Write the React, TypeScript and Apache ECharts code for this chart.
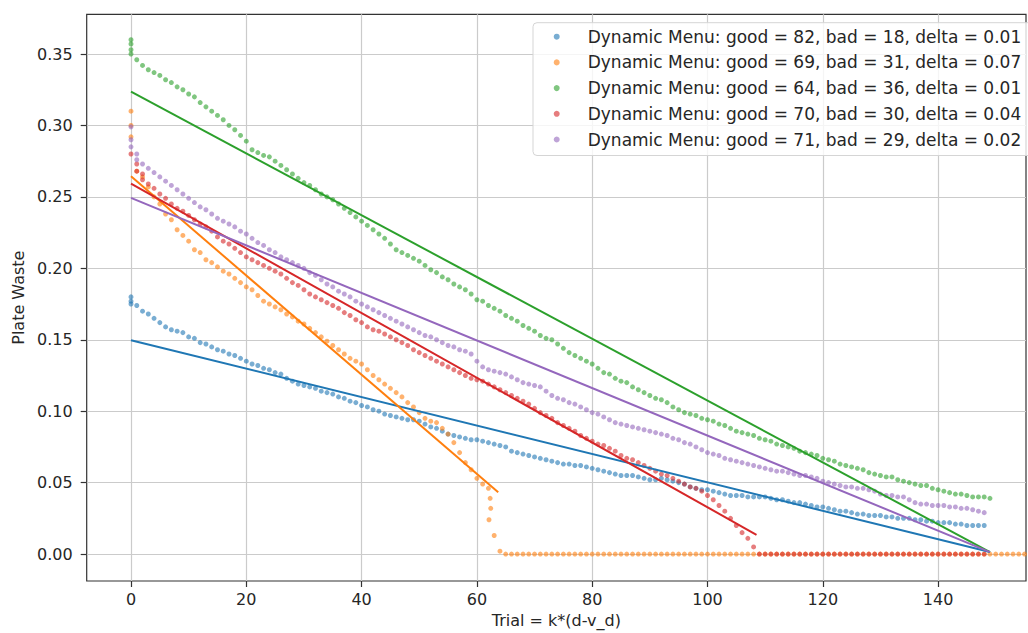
import React, { useEffect, useRef } from "react";
import * as echarts from "echarts";

const seriesNames = [
  "Dynamic Menu: good = 82, bad = 18, delta = 0.01",
  "Dynamic Menu: good = 69, bad = 31, delta = 0.07",
  "Dynamic Menu: good = 64, bad = 36, delta = 0.01",
  "Dynamic Menu: good = 70, bad = 30, delta = 0.04",
  "Dynamic Menu: good = 71, bad = 29, delta = 0.02",
];
const colors = ["#1f77b4", "#ff7f0e", "#2ca02c", "#d62728", "#9467bd"];

// y value per trial (x = index)
const blueY = [
  0.180, 0.174, 0.170, 0.168, 0.165, 0.162, 0.159, 0.157, 0.156, 0.155,
  0.152, 0.151, 0.148, 0.147, 0.145, 0.143, 0.142, 0.140, 0.139, 0.137,
  0.135, 0.133, 0.132, 0.130, 0.129, 0.127, 0.126, 0.123, 0.121, 0.119,
  0.118, 0.117, 0.116, 0.114, 0.113, 0.112, 0.110, 0.109, 0.107, 0.106,
  0.104, 0.103, 0.101, 0.100, 0.098, 0.097, 0.096, 0.095, 0.094, 0.094,
  0.093, 0.091, 0.089, 0.088, 0.086, 0.084, 0.083, 0.082, 0.081, 0.080,
  0.080, 0.079, 0.078, 0.077, 0.076, 0.075, 0.072, 0.071, 0.070, 0.069,
  0.068, 0.067, 0.066, 0.065, 0.064, 0.063, 0.063, 0.062, 0.062, 0.061,
  0.060, 0.059, 0.058, 0.057, 0.056, 0.055, 0.055, 0.055, 0.054, 0.053,
  0.052, 0.052, 0.053, 0.052, 0.051, 0.050, 0.049, 0.047, 0.046, 0.045,
  0.045, 0.044, 0.043, 0.042, 0.041, 0.041, 0.041, 0.040, 0.040, 0.040,
  0.040, 0.039, 0.038, 0.038, 0.037, 0.036, 0.036, 0.035, 0.034, 0.033,
  0.033, 0.032, 0.031, 0.030, 0.030, 0.029, 0.028, 0.028, 0.027, 0.027,
  0.027, 0.026, 0.026, 0.025, 0.025, 0.025, 0.024, 0.024, 0.023, 0.023,
  0.022, 0.022, 0.022, 0.021, 0.021, 0.020, 0.020, 0.020, 0.020,
];
const blueExtra = [[0, 0.177], [0, 0.175]];

const orangeY = [
  0.292, 0.268, 0.264, 0.257, 0.250, 0.245, 0.238, 0.234, 0.227, 0.223,
  0.219, 0.213, 0.211, 0.206, 0.204, 0.201, 0.198, 0.196, 0.193, 0.190,
  0.187, 0.185, 0.181, 0.177, 0.175, 0.173, 0.171, 0.168, 0.166, 0.163,
  0.161, 0.158, 0.155, 0.152, 0.149, 0.146, 0.143, 0.140, 0.137, 0.135,
  0.133, 0.129, 0.125, 0.122, 0.119, 0.116, 0.113, 0.110, 0.106, 0.103,
  0.099, 0.095, 0.093, 0.092, 0.088, 0.084, 0.078, 0.071, 0.064, 0.059,
  0.053, 0.049, 0.046, 0.013, 0.002, 0, 0, 0, 0, 0,
  0, 0, 0, 0, 0, 0, 0, 0, 0, 0,
  0, 0, 0, 0, 0, 0, 0, 0, 0, 0,
  0, 0, 0, 0, 0, 0, 0, 0, 0, 0,
  0, 0, 0, 0, 0, 0, 0, 0, 0, 0,
  0, 0, 0, 0, 0, 0, 0, 0, 0, 0,
  0, 0, 0, 0, 0, 0, 0, 0, 0, 0,
  0, 0, 0, 0, 0, 0, 0, 0, 0, 0,
  0, 0, 0, 0, 0, 0, 0, 0, 0, 0,
  0, 0, 0, 0, 0, 0, 0, 0, 0, 0,
];
const orangeExtra = [[0, 0.310], [0, 0.300], [62.3, 0.039], [62.4, 0.032], [62.1, 0.024]];

const greenY = [
  0.360, 0.346, 0.342, 0.339, 0.337, 0.335, 0.332, 0.330, 0.327, 0.325,
  0.322, 0.320, 0.316, 0.313, 0.310, 0.307, 0.304, 0.300, 0.297, 0.293,
  0.289, 0.283, 0.281, 0.279, 0.278, 0.275, 0.272, 0.269, 0.266, 0.263,
  0.260, 0.258, 0.255, 0.252, 0.250, 0.248, 0.245, 0.242, 0.239, 0.236,
  0.233, 0.230, 0.227, 0.224, 0.221, 0.217, 0.213, 0.211, 0.209, 0.207,
  0.205, 0.202, 0.199, 0.197, 0.194, 0.192, 0.189, 0.187, 0.185, 0.182,
  0.178, 0.177, 0.174, 0.172, 0.170, 0.167, 0.165, 0.163, 0.160, 0.158,
  0.156, 0.153, 0.151, 0.150, 0.147, 0.144, 0.141, 0.139, 0.137, 0.135,
  0.133, 0.130, 0.127, 0.126, 0.123, 0.121, 0.120, 0.117, 0.115, 0.113,
  0.111, 0.109, 0.108, 0.106, 0.103, 0.101, 0.099, 0.098, 0.097, 0.095,
  0.094, 0.093, 0.091, 0.090, 0.088, 0.086, 0.085, 0.084, 0.083, 0.081,
  0.080, 0.079, 0.077, 0.076, 0.075, 0.074, 0.072, 0.071, 0.070, 0.069,
  0.067, 0.066, 0.065, 0.063, 0.062, 0.061, 0.060, 0.059, 0.057, 0.056,
  0.055, 0.054, 0.054, 0.052, 0.051, 0.050, 0.049, 0.048, 0.048, 0.046,
  0.045, 0.044, 0.043, 0.042, 0.042, 0.041, 0.040, 0.040, 0.040, 0.039,
];
const greenExtra = [[0, 0.357], [0, 0.353], [0, 0.350]];

const redY = [
  0.280, 0.268, 0.262, 0.259, 0.256, 0.252, 0.249, 0.245, 0.242, 0.240,
  0.237, 0.234, 0.231, 0.229, 0.226, 0.222, 0.219, 0.217, 0.214, 0.211,
  0.208, 0.206, 0.204, 0.202, 0.200, 0.198, 0.196, 0.193, 0.190, 0.188,
  0.185, 0.182, 0.180, 0.178, 0.176, 0.174, 0.172, 0.169, 0.167, 0.164,
  0.162, 0.159, 0.157, 0.156, 0.154, 0.152, 0.150, 0.148, 0.146, 0.143,
  0.141, 0.139, 0.137, 0.135, 0.133, 0.131, 0.129, 0.127, 0.125, 0.123,
  0.122, 0.121, 0.119, 0.117, 0.115, 0.113, 0.111, 0.109, 0.107, 0.105,
  0.102, 0.099, 0.097, 0.095, 0.092, 0.090, 0.088, 0.086, 0.083, 0.081,
  0.079, 0.077, 0.076, 0.074, 0.072, 0.069, 0.067, 0.066, 0.064, 0.062,
  0.060, 0.058, 0.056, 0.055, 0.053, 0.051, 0.049, 0.047, 0.046, 0.044,
  0.041, 0.038, 0.034, 0.030, 0.025, 0.020, 0.015, 0.011, 0.005, 0,
  0, 0, 0, 0, 0, 0, 0, 0, 0, 0,
  0, 0, 0, 0, 0, 0, 0, 0, 0, 0,
  0, 0, 0, 0, 0, 0, 0, 0, 0, 0,
  0, 0, 0, 0, 0, 0, 0, 0, 0,
];
const redExtra = [[1, 0.273], [2, 0.266]];

const purpleY = [
  0.290, 0.276, 0.273, 0.270, 0.267, 0.264, 0.261, 0.258, 0.255, 0.252,
  0.249, 0.246, 0.243, 0.241, 0.238, 0.235, 0.233, 0.231, 0.229, 0.226,
  0.224, 0.221, 0.218, 0.216, 0.213, 0.211, 0.208, 0.206, 0.204, 0.202,
  0.200, 0.197, 0.195, 0.192, 0.189, 0.187, 0.184, 0.182, 0.180, 0.177,
  0.175, 0.173, 0.171, 0.169, 0.167, 0.165, 0.163, 0.161, 0.159, 0.157,
  0.155, 0.153, 0.152, 0.150, 0.148, 0.146, 0.145, 0.143, 0.142, 0.140,
  0.135, 0.131, 0.129, 0.128, 0.127, 0.126, 0.124, 0.122, 0.120, 0.119,
  0.118, 0.117, 0.114, 0.111, 0.109, 0.108, 0.106, 0.105, 0.103, 0.101,
  0.099, 0.098, 0.096, 0.094, 0.092, 0.091, 0.090, 0.089, 0.088, 0.087,
  0.086, 0.085, 0.084, 0.083, 0.081, 0.080, 0.078, 0.077, 0.075, 0.073,
  0.071, 0.070, 0.069, 0.067, 0.066, 0.065, 0.064, 0.063, 0.062, 0.061,
  0.060, 0.059, 0.058, 0.058, 0.057, 0.056, 0.055, 0.055, 0.054, 0.053,
  0.051, 0.050, 0.049, 0.048, 0.047, 0.047, 0.046, 0.046, 0.045, 0.044,
  0.042, 0.041, 0.041, 0.040, 0.040, 0.038, 0.036, 0.035, 0.035, 0.034,
  0.034, 0.034, 0.033, 0.033, 0.032, 0.032, 0.031, 0.030, 0.029,
];
const purpleExtra = [[0, 0.299], [0, 0.285], [1, 0.280]];

// fitted straight lines: [x, y] end points
const blueFit = [[0, 0.1497], [149, 0.0014]];
const orangeFit = [[0, 0.2644], [63.7, 0.0433]];
const greenFit = [[0, 0.3237], [149, 0.0014]];
const redFit = [[0, 0.2593], [108.5, 0.0135]];
const purpleFit = [[0, 0.2493], [149, 0.0014]];

const xTicks = [0, 20, 40, 60, 80, 100, 120, 140];
const yTicks = [0, 0.05, 0.1, 0.15, 0.2, 0.25, 0.3, 0.35];

const FONT = "DejaVu Sans";
const TXT = "#262626";

function App() {
  const ref = useRef<HTMLDivElement>(null);
  useEffect(() => {
    if (!ref.current) return;
    const chart = echarts.init(ref.current, undefined, { renderer: "svg" });
    const allY = [blueY, orangeY, greenY, redY, purpleY];
    const extras = [blueExtra, orangeExtra, greenExtra, redExtra, purpleExtra];
    const fits = [blueFit, orangeFit, greenFit, redFit, purpleFit];
    const series: any[] = [];
    allY.forEach((ys, k) => {
      series.push({
        name: seriesNames[k],
        type: "scatter",
        data: [...extras[k], ...ys.map((y, i) => [i, y])],
        symbol: "circle",
        symbolSize: 5,
        itemStyle: { color: colors[k], opacity: 0.6 },
        emphasis: { disabled: true },
      });
      series.push({
        name: "fit" + k,
        type: "line",
        data: fits[k],
        showSymbol: false,
        symbol: "none",
        lineStyle: { color: colors[k], width: 2 },
        emphasis: { disabled: true },
      });
    });
    chart.setOption({
      animation: false,
      backgroundColor: "#ffffff",
      textStyle: { fontFamily: FONT },
      grid: {
        left: 86.7,
        right: 2,
        top: 14.3,
        bottom: 50.7,
        show: true,
        borderColor: "#333333",
        borderWidth: 1.2,
        backgroundColor: "transparent",
      },
      legend: {
        data: seriesNames,
        orient: "vertical",
        left: 533,
        top: 22.7,
        icon: "circle",
        itemWidth: 6,
        itemHeight: 6,
        itemGap: 5.7,
        padding: [4, 40, 6, 20.7],
        backgroundColor: "rgba(255,255,255,0.8)",
        borderColor: "#d5d5d5",
        borderWidth: 1,
        borderRadius: 4,
        selectedMode: false,
        textStyle: {
          fontFamily: FONT,
          fontSize: 17,
          color: TXT,
          lineHeight: 20,
          padding: [0, 0, 0, 23],
        },
      },
      xAxis: {
        type: "value",
        min: -7.684,
        max: 155.25,
        minInterval: 20,
        maxInterval: 20,
        splitNumber: 8,
        name: "Trial = k*(d-v_d)",
        nameLocation: "middle",
        nameGap: 31,
        nameTextStyle: { fontFamily: FONT, fontSize: 16, color: TXT },
        axisLine: { show: false, onZero: false },
        axisTick: { show: true, length: 6, lineStyle: { color: "#333", width: 1.2 }, customValues: xTicks },
        axisLabel: {
          margin: 10,
          fontFamily: FONT,
          fontSize: 16,
          color: TXT,
          customValues: xTicks,
          formatter: (v: number) => String(v),
        },
        splitLine: { show: true, lineStyle: { color: "#cbcbcb", width: 1.2 } },
      },
      yAxis: {
        type: "value",
        min: -0.018855,
        max: 0.37779,
        minInterval: 0.05,
        maxInterval: 0.05,
        splitNumber: 8,
        name: "Plate Waste",
        nameLocation: "middle",
        nameGap: 58,
        nameTextStyle: { fontFamily: FONT, fontSize: 16, color: TXT },
        axisLine: { show: false, onZero: false },
        axisTick: { show: true, length: 6, lineStyle: { color: "#333", width: 1.2 }, customValues: yTicks },
        axisLabel: {
          margin: 14,
          fontFamily: FONT,
          fontSize: 16,
          color: TXT,
          customValues: yTicks,
          formatter: (v: number) => v.toFixed(2),
        },
        splitLine: { show: true, lineStyle: { color: "#cbcbcb", width: 1.2 } },
      },
      series,
    });
    return () => chart.dispose();
  }, []);
  return (
    <div
      ref={ref}
      style={{ position: "fixed", left: 0, top: 0, width: 1028, height: 633, background: "#fff" }}
    />
  );
}

export default App;
